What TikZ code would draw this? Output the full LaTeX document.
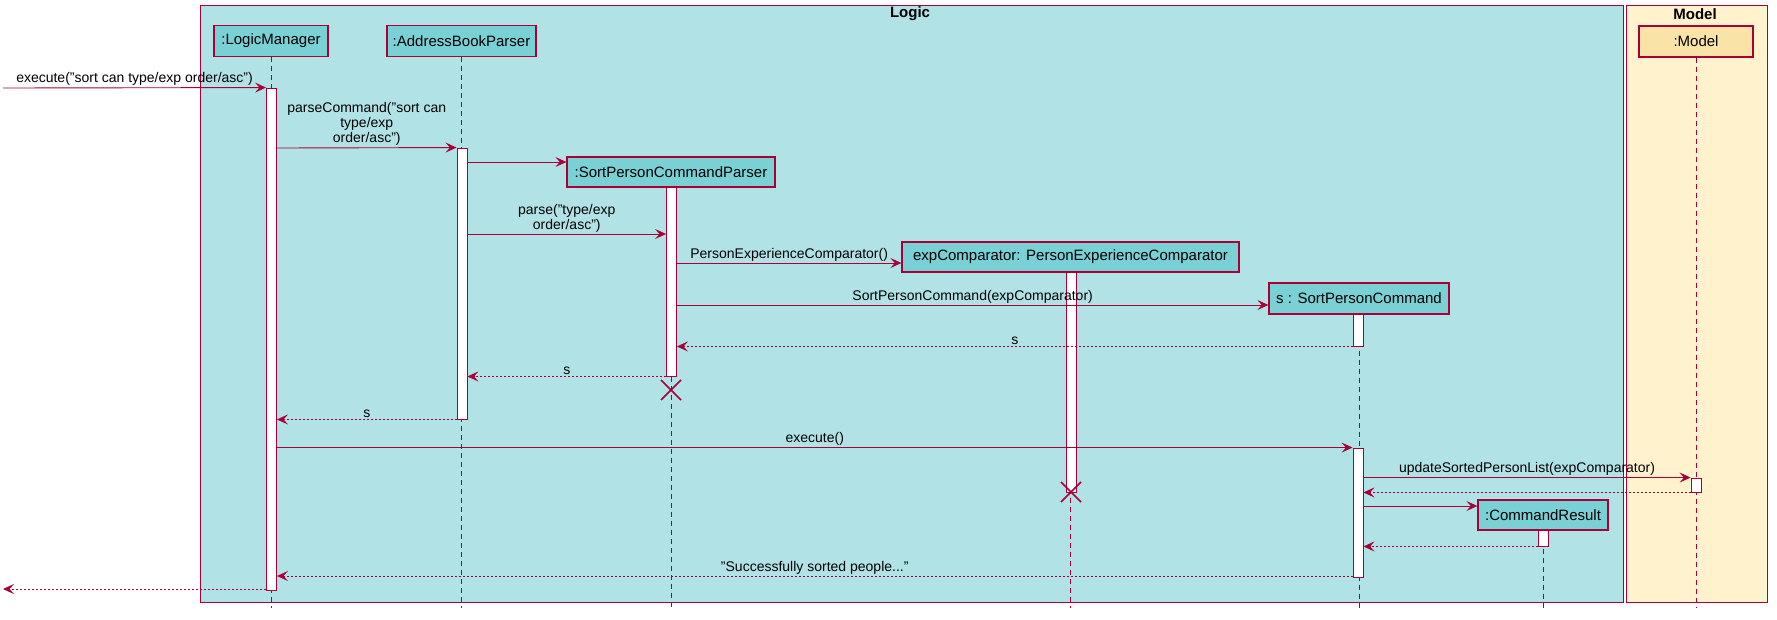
\documentclass[tikz,border=0pt]{standalone}
\usepackage{fontspec}
\setmainfont{Liberation Sans}
\usepackage{xcolor}
\usetikzlibrary{positioning,arrows.meta}

\definecolor{umlred}{HTML}{A80036}
\definecolor{logicbg}{HTML}{B1E3E6}
\definecolor{logicpart}{HTML}{79D0D5}
\definecolor{modelbg}{HTML}{FFF2CC}
\definecolor{modelpart}{HTML}{F9E3A6}

\begin{document}
\begin{tikzpicture}[x=1pt, y=-1pt,
    frame/.style={draw=umlred, line width=0.9pt},
    part/.style={draw=umlred, fill=logicpart, line width=1.3pt, minimum height=31pt, inner sep=0pt, font=\fontsize{15}{17}\selectfont},
    actbar/.style={draw=umlred, fill=white, line width=0.9pt, minimum width=10pt, inner sep=0pt},
    life/.style={draw=umlred, line width=0.9pt, dash pattern=on 5pt off 4pt},
    msg/.style={draw=umlred, line width=0.9pt, -{Stealth[length=11pt, width=10pt, inset=4.5pt]}},
    ret/.style={msg, dash pattern=on 2pt off 2pt},
    lbl/.style={midway, above, inner sep=1.5pt, align=center, font=\fontsize{14}{15}\selectfont},
    destroy/.style={draw=umlred, line width=1.6pt}]
\useasboundingbox (0,0) rectangle (1777,619);

% boxes
\draw[frame, fill=logicbg] (200,5) rectangle (1623,602);
\draw[frame, fill=modelbg] (1626,5) rectangle (1767,602);
\node[font=\bfseries\fontsize{15}{17}\selectfont] (logictitle) at (910,14) {Logic};
\node[font=\bfseries\fontsize{15}{17}\selectfont] (modeltitle) at (1695,14) {Model};

% participants
\node[part, minimum width=114pt] (lm) at (271,41) {:LogicManager};
\node[part, minimum width=149pt] (abp) at (461.5,41) {:AddressBookParser};
\node[part, minimum width=114pt, fill=modelpart] (model) at (1696,41.5) {:Model};
\node[part, minimum width=208pt, minimum height=30pt] (spcp) at (671,172) {:SortPersonCommandParser};
\node[part, minimum width=337pt, minimum height=30pt] (exp) at (1070.5,257) {expComparator: PersonExperienceComparator};
\node[part, minimum width=180pt] (spc) at (1359,298.5) {s : SortPersonCommand};
\node[part, minimum width=130pt, minimum height=30pt] (cr) at (1543,515) {:CommandResult};

% lifelines
\foreach \p in {lm, abp, model, spcp, exp, spc, cr}
    \draw[life] (\p.south) -- (\p.south |- 0,608);

% activations
\node[actbar, minimum height=502pt] (lmA) at (271.5,339) {};
\node[actbar, minimum height=271pt] (abpA) at (462,283.5) {};
\node[actbar, minimum height=189pt] (spcpA) at (671.5,281.5) {};
\node[actbar, minimum height=220pt] (expA) at (1071,382) {};
\node[actbar, minimum height=32pt] (spcA1) at (1358,330) {};
\node[actbar, minimum height=129pt] (spcA2) at (1358,512.5) {};
\node[actbar, minimum height=14pt] (modelA) at (1696,485) {};
\node[actbar, minimum height=16pt] (crA) at (1543.5,538) {};

\coordinate (entry) at (3,88);
\coordinate (exit) at (3,589);

% messages
\draw[msg] (entry) -- (lmA.north west)
    node[lbl] {execute("sort can type/exp order/asc")};
\draw[msg] (lmA.east |- 0,148) -- (abpA.north west)
    node[lbl] {parseCommand("sort can\\type/exp\\order/asc")};
\draw[msg] (abpA.east |- 0,162) -- (spcp.west |- 0,162);
\draw[msg] (abpA.east |- 0,234) -- (spcpA.west |- 0,234)
    node[lbl] {parse("type/exp\\order/asc")};
\draw[msg] (spcpA.east |- 0,263) -- (exp.west |- 0,263)
    node[lbl] {PersonExperienceComparator()};
\draw[msg] (spcpA.east |- 0,305) -- (spc.west |- 0,305)
    node[lbl] {SortPersonCommand(expComparator)};
\draw[ret] (spcA1.south west) -- (spcpA.east |- spcA1.south)
    node[lbl] {s};
\draw[ret] (spcpA.south west) -- (abpA.east |- spcpA.south)
    node[lbl] {s};
\draw[destroy] (661,380) -- (681,400) (661,400) -- (681,380);
\draw[ret] (abpA.south west) -- (lmA.east |- abpA.south)
    node[lbl] {s};
\draw[msg] (lmA.east |- spcA2.north) -- (spcA2.north west)
    node[lbl] {execute()};
\draw[destroy] (1061,482) -- (1081,502) (1061,502) -- (1081,482);
\draw[msg] (spcA2.east |- modelA.north) -- (modelA.north west)
    node[lbl] {updateSortedPersonList(expComparator)};
\draw[ret] (modelA.south west) -- (spcA2.east |- modelA.south);
\draw[msg] (spcA2.east |- 0,506) -- (cr.west |- 0,506);
\draw[ret] (crA.south west) -- (spcA2.east |- crA.south);
\draw[ret] (spcA2.west |- 0,576) -- (lmA.east |- 0,576)
    node[lbl] {"Successfully sorted people..."};
\draw[ret] (lmA.west |- exit) -- (exit);

\end{tikzpicture}
\end{document}
